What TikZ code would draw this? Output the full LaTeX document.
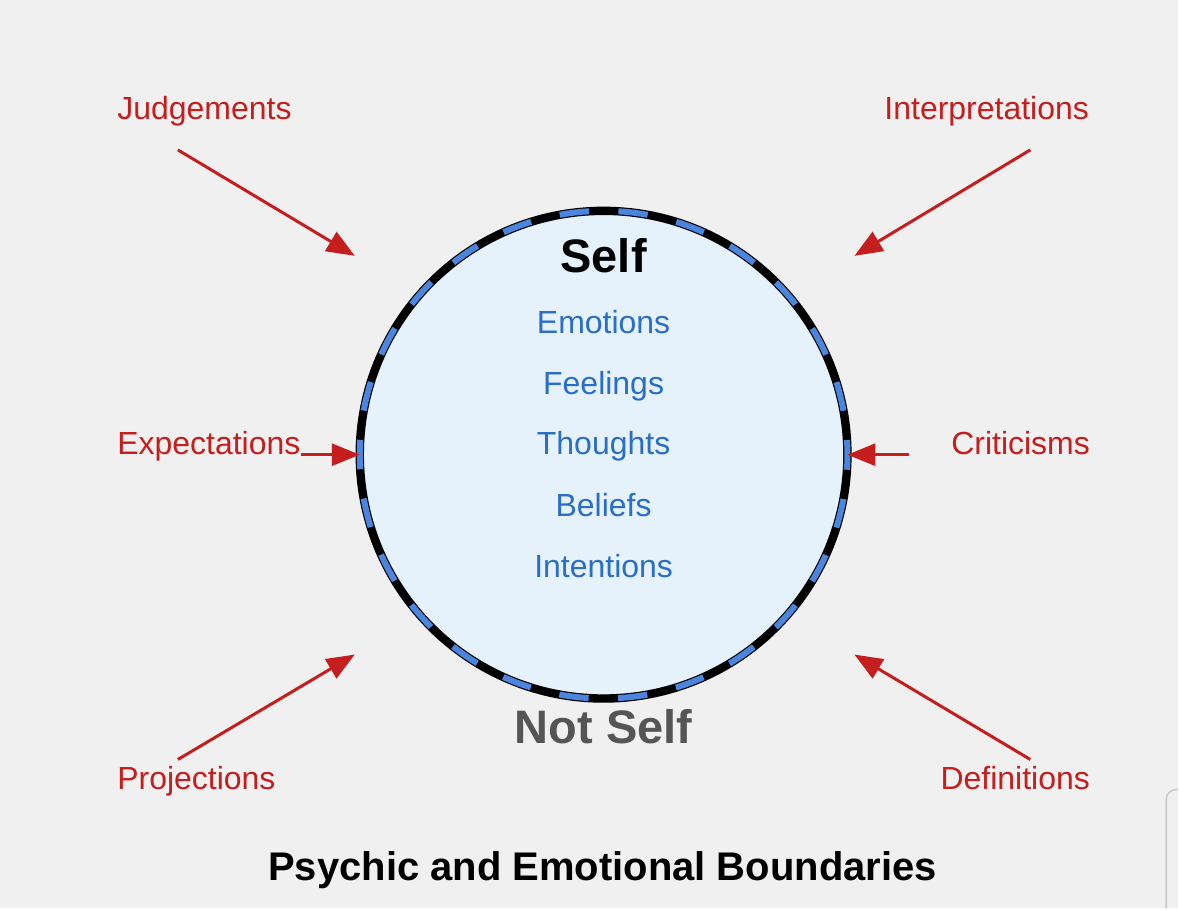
\documentclass[tikz,border=0pt]{standalone}
\usepackage{fontspec}
\setmainfont{Liberation Sans}
\usetikzlibrary{arrows.meta}
\definecolor{bggray}{HTML}{F0F0F0}
\definecolor{selffill}{HTML}{E5F1FB}
\definecolor{boundblue}{HTML}{4A86DE}
\definecolor{contentblue}{HTML}{2A6EC6}
\definecolor{boundred}{HTML}{C41E1E}
\definecolor{notselfgray}{HTML}{555555}
\begin{document}
\begin{tikzpicture}[
    x=0.5pt, y=-0.5pt,
    intrusion/.style={text=boundred, font=\fontsize{16}{19}\selectfont, inner sep=0pt},
    content/.style={text=contentblue, font=\fontsize{16}{19}\selectfont, inner sep=0pt, anchor=base},
    heading/.style={font=\bfseries\fontsize{23.5}{28}\selectfont, inner sep=0pt, anchor=base},
    push/.style={-{Triangle[length=14pt,width=11pt]}, line width=1.5pt, draw=boundred},
  ]
    % background and window edge
    \fill[bggray] (0,0) rectangle (1179,909);
    \draw[gray!40, line width=0.8pt] (1167,909) -- (1167,800) arc[start angle=180, end angle=90, radius=5pt] -- (1179,790);

    % boundary of the self
    \node[circle, draw=black, line width=4.2pt, fill=selffill, minimum size=244pt,
          inner sep=0pt, outer sep=0pt] (self) at (604,455) {};
    \draw[boundblue, line width=3pt, dash pattern=on 14.74pt off 14.74pt, dash phase=7.37pt]
      (self.center) circle[radius=122pt];

    % inside
    \node[heading] (selfname) at (604,273) {Self};
    \node[content] (emo)   at (604,334) {Emotions};
    \node[content] (feel)  at (604,395) {Feelings};
    \node[content] (thou)  at (604,455) {Thoughts};
    \node[content] (bel)   at (604,517) {Beliefs};
    \node[content] (inten) at (604,578) {Intentions};

    % outside
    \node[heading, text=notselfgray] (notself) at (604,744) {Not Self};
    \node[font=\bfseries\fontsize{20}{24}\selectfont, inner sep=0pt, anchor=base] (title) at (603,881)
      {Psychic and Emotional Boundaries};

    \node[intrusion, anchor=base west] (judge)  at (117,120)  {Judgements};
    \node[intrusion, anchor=base east] (interp) at (1090,120) {Interpretations};
    \node[intrusion, anchor=base west] (expect) at (117,455)  {Expectations};
    \node[intrusion, anchor=base east] (critic) at (1091,455) {Criticisms};
    \node[intrusion, anchor=base west] (proj)   at (117,790)  {Projections};
    \node[intrusion, anchor=base east] (defin)  at (1091,790) {Definitions};

    % arrows toward the boundary
    \coordinate (judgeT)  at (178,150);  \coordinate (judgeH)  at (355,256);
    \coordinate (interpT) at (1031,150); \coordinate (interpH) at (855,256);
    \coordinate (projT)   at (178,760);  \coordinate (projH)   at (355,655);
    \coordinate (definT)  at (1031,760); \coordinate (definH)  at (855,655);
    \coordinate (criticT) at (910,455);

    \draw[push] (judgeT) -- (judgeH);
    \draw[push] (interpT) -- (interpH);
    \draw[push] (projT) -- (projH);
    \draw[push] (definT) -- (definH);
    \draw[push] (expect.base east) -- (self.west);
    \draw[push] (criticT) -- (self.east);
  \end{tikzpicture}
\end{document}
